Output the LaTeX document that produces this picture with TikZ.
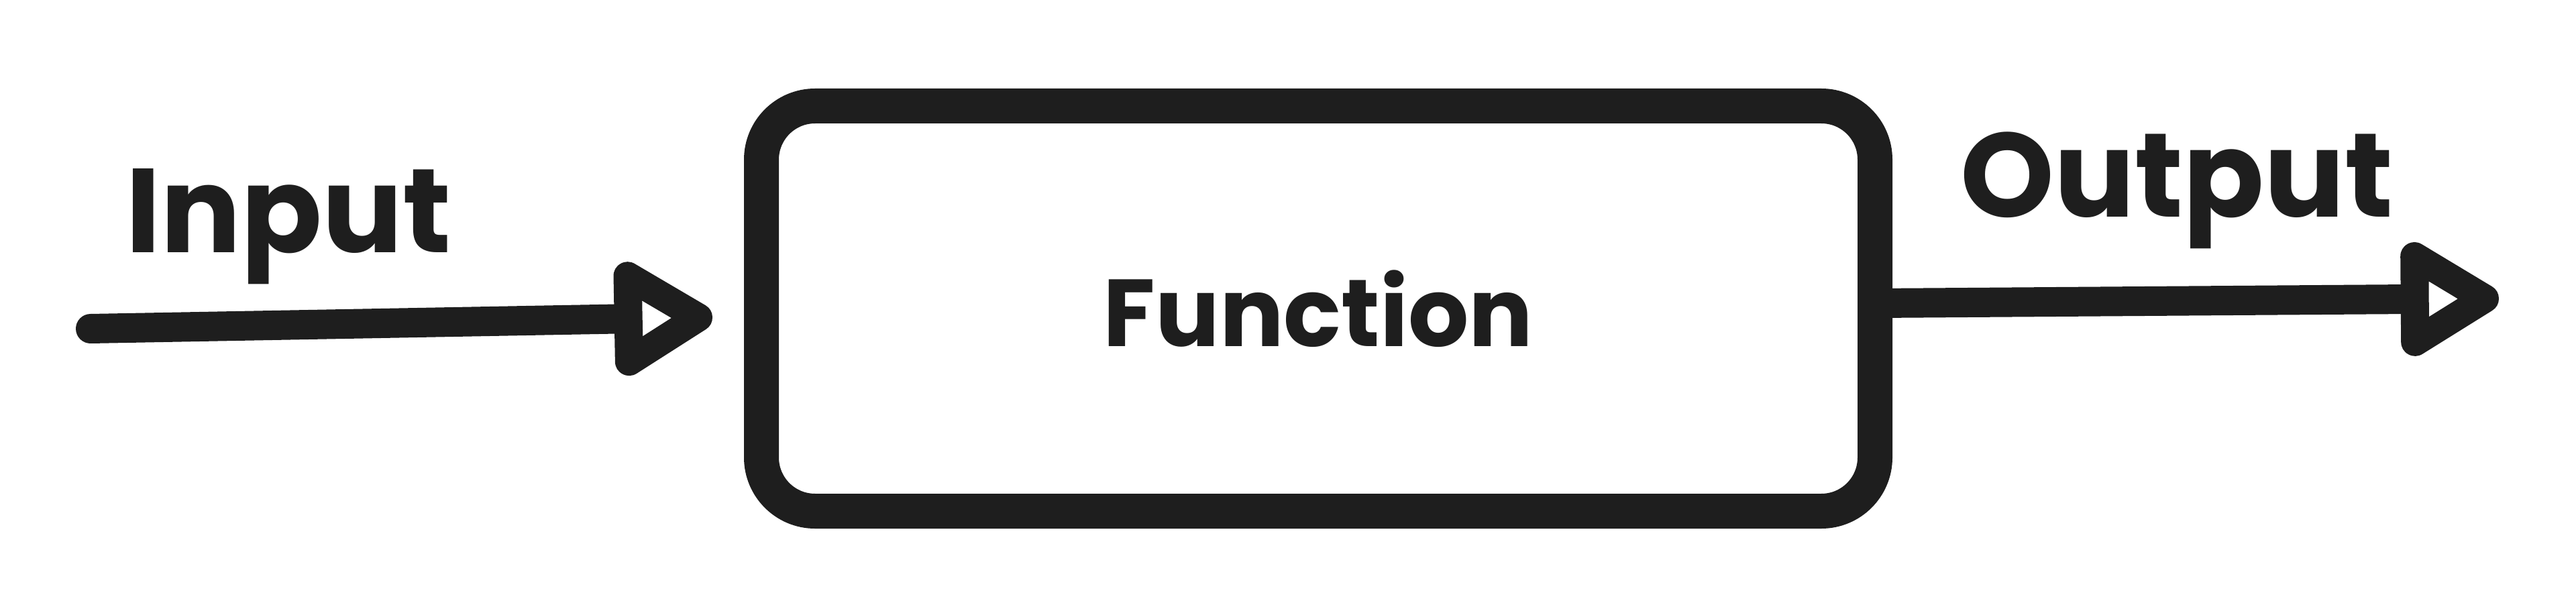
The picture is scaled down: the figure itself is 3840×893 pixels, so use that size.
\documentclass[tikz,border=0pt]{standalone}
\usepackage{fontspec}
\setmainfont{Poppins}
\usetikzlibrary{arrows.meta,calc}
\definecolor{ink}{HTML}{1E1E1E}
\tikzset{
    block/.style={draw=ink, line width=26pt, rounded corners=40pt,
        minimum width=830pt, minimum height=302pt,
        font=\fontsize{71}{80}\selectfont\bfseries, text=ink},
    flow/.style={draw=ink, line width=22pt, line cap=round,
        -{Triangle[open,length=84pt,width=95pt,round]}},
    tag/.style={font=\fontsize{89}{100}\selectfont\bfseries, text=ink, inner sep=0pt},
}
\begin{document}
\begin{tikzpicture}[x=0.5pt,y=-0.5pt]
        \useasboundingbox (0,0) rectangle (3840,893);
        %% Box
        \node[block] (function) at (1965,460) {Function};
        %% Input
        \coordinate (in start) at (135,490);
        \draw[flow, shorten >=23.5pt] (in start) -- ([yshift=-6pt]function.west);
        \node[tag, anchor=base west] (input label) at (187,377) {Input};
        %% Output
        \coordinate (out end) at (3725,445);
        \draw[flow] ([xshift=-10pt,yshift=4pt]function.east) -- (out end);
        \node[tag, anchor=base west] (output label) at (2922,323) {Output};
    \end{tikzpicture}
\end{document}
